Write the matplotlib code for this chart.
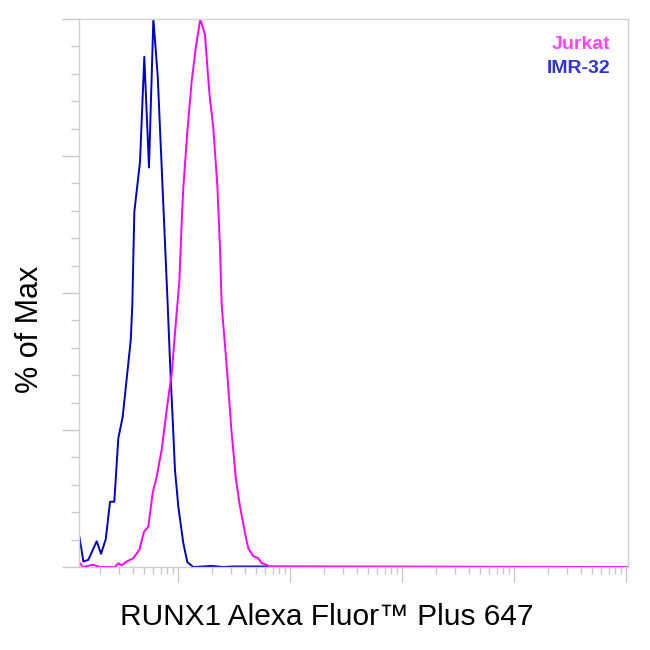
import numpy as np
import matplotlib
matplotlib.use('Agg')
import matplotlib.pyplot as plt
from matplotlib.ticker import LogLocator, MultipleLocator, NullFormatter

plt.rcParams['font.family'] = ['Liberation Sans', 'DejaVu Sans']

# log10 of fluorescence intensity and % of max
imr32_log = [1.120, 1.155, 1.199, 1.274, 1.313, 1.355, 1.393, 1.431, 1.467, 1.506,
             1.578, 1.592, 1.610, 1.661, 1.699, 1.741, 1.780, 1.819, 1.908, 1.929,
             1.958, 1.973, 2.003, 2.047, 2.083, 2.137, 2.300, 2.400, 2.500, 6.020]
imr32_pct = [5.5, 1.0, 1.3, 4.7, 2.4, 5.1, 11.9, 11.9, 23.5, 27.4,
             41.4, 47.8, 64.8, 74.0, 93.1, 72.9, 100.0, 89.5, 47.8, 37.2,
             24.5, 17.7, 11.0, 4.4, 0.9, 0.0, 0.2, 0.0, 0.1, 0.0]

jurkat_log = [1.125, 1.152, 1.241, 1.304, 1.438, 1.467, 1.497, 1.542, 1.601, 1.654,
              1.696, 1.735, 1.774, 1.810, 1.854, 1.899, 1.944, 1.988, 2.012, 2.033,
              2.047, 2.083, 2.122, 2.158, 2.199, 2.241, 2.279, 2.315, 2.351, 2.375,
              2.390, 2.435, 2.479, 2.518, 2.554, 2.598, 2.628, 2.672, 2.717, 2.747,
              2.792, 2.821, 6.020]
jurkat_pct = [0.7, 0.0, 0.4, 0.0, 0.0, 0.7, 0.3, 1.0, 1.6, 3.1,
              6.4, 7.4, 13.5, 16.5, 21.4, 28.7, 35.4, 46.4, 52.1, 63.0,
              69.1, 79.4, 88.6, 94.7, 100.0, 97.1, 86.7, 80.1, 69.7, 58.2,
              47.8, 36.6, 24.4, 15.9, 11.0, 6.2, 3.4, 2.0, 1.6, 0.7,
              0.4, 0.0, 0.0]

samples = ['Jurkat', 'IMR-32']
line_colors = {'Jurkat': '#ff00ff', 'IMR-32': '#0000cc'}
text_colors = {'Jurkat': '#ff44ff', 'IMR-32': '#3333dd'}


def main():
    fig = plt.figure(figsize=(6.5, 6.5), dpi=100)
    ax = fig.add_axes([79 / 650, 83 / 650, 549 / 650, 548 / 650])

    ax.plot(10 ** np.array(imr32_log), imr32_pct, color=line_colors['IMR-32'], lw=1.4)
    ax.plot(10 ** np.array(jurkat_log), jurkat_pct, color=line_colors['Jurkat'], lw=1.4)

    ax.set_xscale('log')
    ax.set_xlim(10 ** 1.116, 10 ** 6.018)
    ax.set_ylim(0, 100)

    # axis styling: light gray frame, outward ticks, no tick labels
    for s in ax.spines.values():
        s.set_color('#d0d0d0')
        s.set_linewidth(1.0)
    ax.xaxis.set_major_locator(LogLocator(base=10, numticks=10))
    ax.xaxis.set_minor_locator(LogLocator(base=10, subs=np.arange(2, 10), numticks=20))
    ax.xaxis.set_major_formatter(NullFormatter())
    ax.xaxis.set_minor_formatter(NullFormatter())
    ax.yaxis.set_major_locator(MultipleLocator(25))
    ax.yaxis.set_minor_locator(MultipleLocator(5))
    ax.yaxis.set_major_formatter(NullFormatter())
    ax.tick_params(axis='x', which='major', direction='out', length=10.5, color='#c8c8c8', width=1)
    ax.tick_params(axis='x', which='minor', direction='out', length=5, color='#c8c8c8', width=1)
    ax.tick_params(axis='y', which='major', direction='out', length=12.5, color='#c8c8c8', width=1)
    ax.tick_params(axis='y', which='minor', direction='out', length=6, color='#c8c8c8', width=1)

    ax.set_xlabel('RUNX1 Alexa Fluor\u2122 Plus 647', fontsize=21.5, va='center')
    ax.xaxis.set_label_coords(0.452, -0.091)
    ax.set_ylabel('% of Max', fontsize=22, va='center')
    ax.yaxis.set_label_coords(-0.089, 0.434)

    for i, name in enumerate(samples):
        ax.text(0.9685, 0.9526 - i * 0.0436, name, transform=ax.transAxes, ha='right', va='center',
                fontsize=14, fontweight='bold', color=text_colors[name])

    fig.savefig('out.png', dpi=100)
    plt.close()


if __name__ == '__main__':
    main()
